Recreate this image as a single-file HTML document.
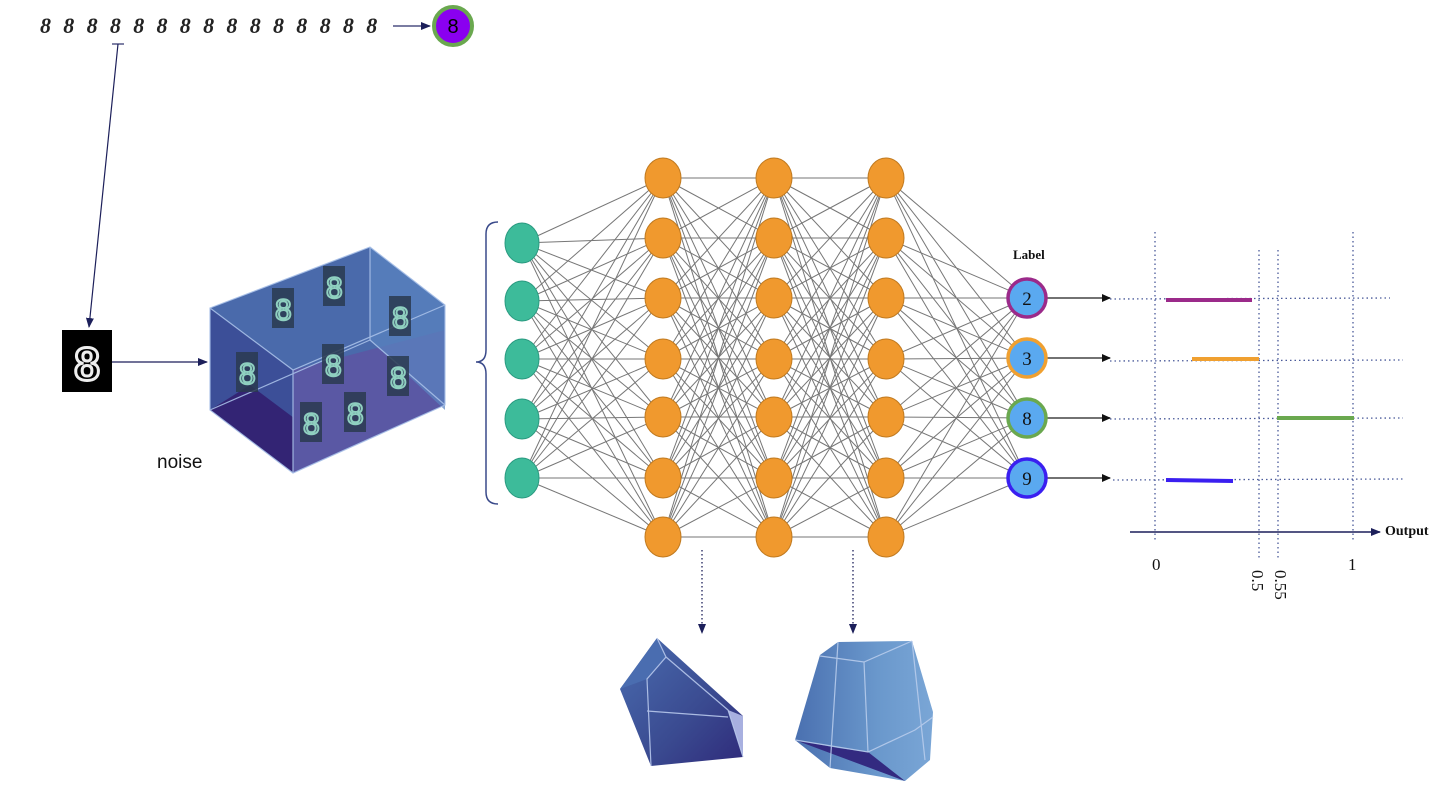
<!DOCTYPE html>
<html><head><meta charset="utf-8"><style>
html,body{margin:0;padding:0;background:#fff;width:1447px;height:796px;overflow:hidden}
svg{display:block}
</style></head><body>
<svg id="s" width="1447" height="796" viewBox="0 0 1447 796" xmlns="http://www.w3.org/2000/svg">
<defs>
<marker id="ah" markerWidth="10" markerHeight="8" refX="9" refY="4" orient="auto" markerUnits="userSpaceOnUse"><path d="M0,0 L10,4 L0,8 z" fill="#1c1f5a"/></marker>
<marker id="ab" markerWidth="9" markerHeight="8" refX="8" refY="4" orient="auto" markerUnits="userSpaceOnUse"><path d="M0,0 L9,4 L0,8 z" fill="#111"/></marker>
<linearGradient id="pg1" x1="0" y1="0" x2="1" y2="1"><stop offset="0" stop-color="#4a6db0"/><stop offset="0.6" stop-color="#3a4a90"/><stop offset="1" stop-color="#2f2a7a"/></linearGradient>
<linearGradient id="pg2" x1="0" y1="0" x2="1" y2="0"><stop offset="0" stop-color="#4a70b0"/><stop offset="0.6" stop-color="#6a98cc"/><stop offset="1" stop-color="#7aa6d6"/></linearGradient>
</defs>
<g id="lines" stroke="#555" stroke-width="1" opacity="0.8"></g>

<!-- top row of 8s -->
<text x="40" y="33" font-family="Liberation Serif, serif" font-style="italic" font-weight="bold" font-size="22" fill="#222" letter-spacing="12.3">888888888888888</text>
<line x1="393" y1="26" x2="430" y2="26" stroke="#2a2f6a" stroke-width="1.3" marker-end="url(#ah)"/>
<circle cx="453" cy="26" r="19" fill="#8a00f0" stroke="#6aa84f" stroke-width="4"/>
<text x="453" y="33" text-anchor="middle" font-family="Liberation Sans, sans-serif" font-size="20" fill="#000">8</text>
<line x1="112" y1="44" x2="124" y2="44" stroke="#2a2f6a" stroke-width="1.2"/>
<line x1="118" y1="44" x2="89" y2="327" stroke="#1c1f5a" stroke-width="1.2" marker-end="url(#ah)"/>

<!-- mnist 8 -->
<rect x="62" y="330" width="50" height="62" fill="#000"/>
<text x="87" y="380" text-anchor="middle" font-family="Liberation Sans, sans-serif" font-weight="bold" font-size="46" fill="none" stroke="#eee" stroke-width="3">8</text>
<line x1="112" y1="362" x2="207" y2="362" stroke="#1c1f5a" stroke-width="1.2" marker-end="url(#ah)"/>
<text x="157" y="468" font-family="Liberation Sans, sans-serif" font-size="19" fill="#111">noise</text>

<!-- box -->
<polygon points="210,308 370,247 445,305 445,405 293,473 210,410" fill="#4a6aab"/>
<polygon points="210,410 293,473 293,370 210,308" fill="#3c4f98"/>
<polygon points="210,410 293,473 330,445 250,385" fill="#321f70" opacity="0.9"/>
<polygon points="293,473 445,405 445,330 293,370" fill="#5a58a4"/>
<polygon points="370,247 445,305 445,410 370,340" fill="#5a84c0" opacity="0.7"/>
<g stroke="#a8c0e8" stroke-width="1.2" fill="none" opacity="0.9">
<polyline points="210,308 293,370 445,305"/><line x1="293" y1="370" x2="293" y2="473"/>
<line x1="370" y1="247" x2="370" y2="340"/><line x1="210" y1="410" x2="370" y2="340"/><line x1="370" y1="340" x2="445" y2="405"/>
<polygon points="210,308 370,247 445,305 445,405 293,473 210,410"/>
</g>
<g fill="#2a3a50" opacity="0.85">
<rect x="272" y="288" width="22" height="40"/><rect x="323" y="266" width="22" height="40"/><rect x="389" y="296" width="22" height="40"/>
<rect x="236" y="352" width="22" height="40"/><rect x="322" y="344" width="22" height="40"/><rect x="387" y="356" width="22" height="40"/>
<rect x="300" y="402" width="22" height="40"/><rect x="344" y="392" width="22" height="40"/>
</g>
<g font-family="Liberation Sans, sans-serif" font-size="30" fill="none" stroke="#8fd0c0" stroke-width="2">
<text x="275" y="320">8</text><text x="326" y="298">8</text><text x="392" y="328">8</text><text x="239" y="384">8</text>
<text x="325" y="376">8</text><text x="390" y="388">8</text><text x="303" y="434">8</text><text x="347" y="424">8</text>
</g>

<!-- brace -->
<path d="M498,222 Q486,222 486,234 L486,350 Q486,362 476,362 Q486,362 486,374 L486,492 Q486,504 498,504" fill="none" stroke="#3a4a8a" stroke-width="1.5"/>

<g id="nodes"></g>

<text x="1013" y="259" font-family="Liberation Serif, serif" font-weight="bold" font-size="13" fill="#111">Label</text>

<!-- chart -->
<g stroke="#4a5a9a" stroke-width="1.3" stroke-dasharray="1.5,3">
<line x1="1155" y1="232" x2="1155" y2="540"/><line x1="1259" y1="250" x2="1259" y2="560"/>
<line x1="1278" y1="250" x2="1278" y2="560"/><line x1="1353" y1="232" x2="1353" y2="540"/>
<line x1="1110" y1="299" x2="1390" y2="298"/><line x1="1110" y1="361" x2="1403" y2="360"/>
<line x1="1110" y1="419" x2="1403" y2="418"/><line x1="1113" y1="480" x2="1403" y2="479"/>
</g>
<g stroke-width="4">
<line x1="1166" y1="300" x2="1252" y2="300" stroke="#9b2a8a"/>
<line x1="1192" y1="359" x2="1259" y2="359" stroke="#f0a030"/>
<line x1="1277" y1="418" x2="1354" y2="418" stroke="#6aa84f"/>
<line x1="1166" y1="480" x2="1233" y2="481" stroke="#3a1ff0"/>
</g>
<line x1="1130" y1="532" x2="1380" y2="532" stroke="#1c1f5a" stroke-width="1.5" marker-end="url(#ah)"/>
<text x="1385" y="535" font-family="Liberation Serif, serif" font-weight="bold" font-size="14" fill="#111">Output</text>
<g font-family="Liberation Serif, serif" font-size="17" fill="#111">
<text x="1152" y="570">0</text><text x="1348" y="570">1</text>
<text transform="translate(1252,570) rotate(90)">0.5</text>
<text transform="translate(1275,570) rotate(90)">0.55</text>
</g>

<!-- dotted arrows down -->
<line x1="702" y1="550" x2="702" y2="633" stroke="#1c1f5a" stroke-width="1.3" stroke-dasharray="1.5,2.5" marker-end="url(#ah)"/>
<line x1="853" y1="550" x2="853" y2="633" stroke="#1c1f5a" stroke-width="1.3" stroke-dasharray="1.5,2.5" marker-end="url(#ah)"/>

<!-- polyhedron 1 -->
<polygon points="620,689 657,638 743,716 743,757 651,766" fill="url(#pg1)"/>
<polygon points="620,689 657,638 666,657 647,679" fill="#4a6db0"/>
<polygon points="743,716 743,757 728,710" fill="#a8b0e0"/>
<g stroke="#b8c8ec" stroke-width="1.2" fill="none" opacity="0.9">
<polyline points="657,638 666,657 647,679 651,766"/><polyline points="666,657 728,710 743,757"/><line x1="647" y1="711" x2="728" y2="717"/>
</g>
<!-- polyhedron 2 -->
<polygon points="795,740 820,655 838,642 912,641 933,712 930,760 905,781 830,768" fill="url(#pg2)"/>
<polygon points="795,740 905,781 868,752 838,748" fill="#332a80"/>
<g stroke="#b8ccec" stroke-width="1.2" fill="none" opacity="0.9">
<polyline points="820,656 864,662 912,641"/><line x1="864" y1="662" x2="868" y2="752"/><line x1="912" y1="641" x2="925" y2="760"/>
<polyline points="795,740 868,752 915,730 933,717"/><line x1="838" y1="642" x2="830" y2="768"/>
</g>
</svg>
<script>
(function(){
var NS="http://www.w3.org/2000/svg";
var L=[{x:522,ys:[243,301,359,419,478]},
{x:663,ys:[178,238,298,359,417,478,537]},
{x:774,ys:[178,238,298,359,417,478,537]},
{x:886,ys:[178,238,298,359,417,478,537]},
{x:1027,ys:[298,358,418,478]}];
var g=document.getElementById("lines"),n=document.getElementById("nodes");
for(var i=0;i<L.length-1;i++)for(var a=0;a<L[i].ys.length;a++)for(var b=0;b<L[i+1].ys.length;b++){
var l=document.createElementNS(NS,"line");l.setAttribute("x1",L[i].x);l.setAttribute("y1",L[i].ys[a]);
l.setAttribute("x2",L[i+1].x);l.setAttribute("y2",L[i+1].ys[b]);g.appendChild(l);}
function el(t,at){var e=document.createElementNS(NS,t);for(var k in at)e.setAttribute(k,at[k]);n.appendChild(e);return e;}
L[0].ys.forEach(function(y){el("ellipse",{cx:522,cy:y,rx:17,ry:20,fill:"#3dbb9a",stroke:"#2a9a80","stroke-width":1});});
for(var j=1;j<4;j++)L[j].ys.forEach(function(y){el("ellipse",{cx:L[j].x,cy:y,rx:18,ry:20,fill:"#f0992e",stroke:"#c07a20","stroke-width":1});});
var cols=["#9b2a8a","#f0a030","#6aa84f","#3a1ff0"],lab=["2","3","8","9"];
L[4].ys.forEach(function(y,k){
el("line",{x1:1047,y1:y,x2:1110,y2:y,stroke:"#444","stroke-width":1.5,"marker-end":"url(#ab)"});
el("circle",{cx:1027,cy:y,r:19,fill:"#5aa9f0",stroke:cols[k],"stroke-width":3.5});
var t=el("text",{x:1027,y:y+7,"text-anchor":"middle","font-family":"Liberation Serif, serif","font-size":"19",fill:"#111"});t.textContent=lab[k];});
})();
</script>
</body></html>
